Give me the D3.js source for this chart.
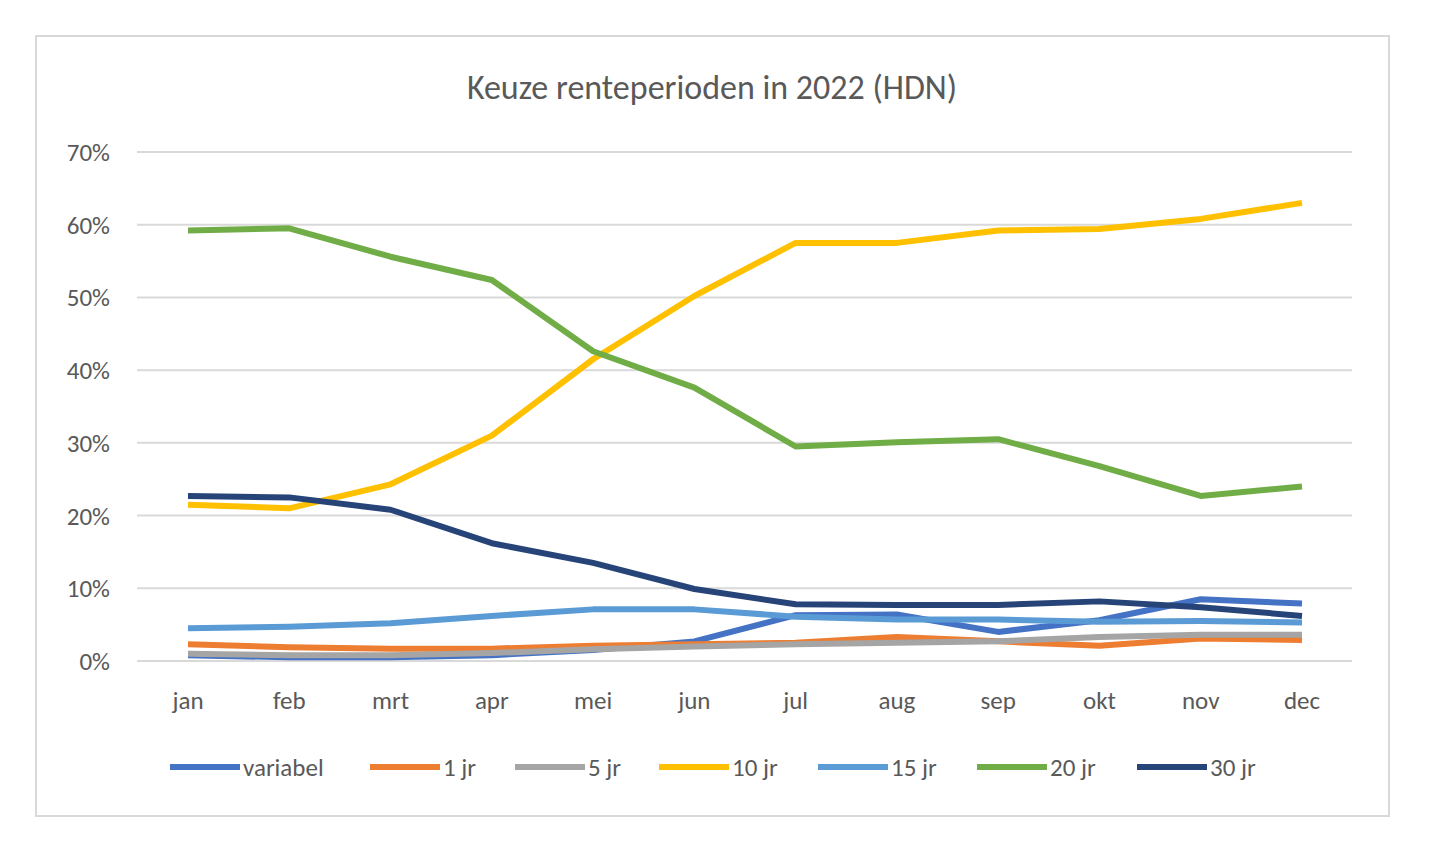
<!DOCTYPE html>
<html><head><meta charset="utf-8">
<script src="https://cdn.jsdelivr.net/npm/d3@7"></script>
<style>body{margin:0;background:#fff;font-family:Calibri,Carlito,"Open Sans",sans-serif}</style>
</head><body>
<svg id="c" width="1440" height="856"></svg>
<script>
const months = ['jan','feb','mrt','apr','mei','jun','jul','aug','sep','okt','nov','dec'];
const seriesNames = ['variabel','1 jr','5 jr','10 jr','15 jr','20 jr','30 jr'];
const colors = ['#4472c4','#ed7d31','#a5a5a5','#ffc000','#5b9bd5','#70ad47','#264478'];
const variabel = [0.8,0.5,0.5,0.8,1.5,2.7,6.3,6.4,4.0,5.6,8.5,7.9];
const jr1 = [2.3,1.9,1.7,1.7,2.1,2.3,2.5,3.3,2.7,2.1,3.1,2.9];
const jr5 = [1.0,0.8,0.8,1.1,1.6,2.0,2.3,2.5,2.7,3.3,3.6,3.6];
const jr10 = [21.5,21.0,24.3,31,41.5,50.2,57.5,57.5,59.2,59.4,60.8,63.0];
const jr15 = [4.5,4.7,5.2,6.2,7.1,7.1,6.1,5.7,5.7,5.4,5.5,5.3];
const jr20 = [59.2,59.5,55.6,52.4,42.6,37.6,29.5,30.1,30.5,26.8,22.7,24.0];
const jr30 = [22.7,22.5,20.8,16.2,13.5,9.9,7.8,7.7,7.7,8.2,7.4,6.2];
const values = [variabel,jr1,jr5,jr10,jr15,jr20,jr30];
const yTicks = [0,10,20,30,40,50,60,70];

const svg = d3.select('#c');
svg.append('rect').attr('x',36).attr('y',36).attr('width',1353).attr('height',780)
  .attr('fill','#fff').attr('stroke','#d9d9d9').attr('stroke-width',2);
svg.append('text').attr('x',712).attr('y',99).attr('text-anchor','middle')
  .attr('font-size',34).attr('fill','#595959').text('Keuze renteperioden in 2022 (HDN)');

const x = d3.scalePoint().domain(months).range([188,1302]);
const y = d3.scaleLinear().domain([0,70]).range([661,152]);

svg.append('g').selectAll('line').data(yTicks).join('line')
  .attr('x1',137).attr('x2',1352).attr('y1',d=>y(d)).attr('y2',d=>y(d))
  .attr('stroke','#d9d9d9').attr('stroke-width',2);
svg.append('g').selectAll('text').data(yTicks).join('text')
  .attr('x',110).attr('y',d=>y(d)+9).attr('text-anchor','end')
  .attr('font-size',25).attr('fill','#595959').text(d=>d+'%');
svg.append('g').selectAll('text').data(months).join('text')
  .attr('x',d=>x(d)).attr('y',709).attr('text-anchor','middle')
  .attr('font-size',25).attr('fill','#595959').text(d=>d);

const line = d3.line().x((d,i)=>x(months[i])).y(d=>y(d));
values.forEach((v,k)=>{
  svg.append('path').datum(v).attr('d',line).attr('fill','none')
    .attr('stroke',colors[k]).attr('stroke-width',6).attr('stroke-linejoin','round');
});

const legX = [170,370,515,659,818,977,1137];
seriesNames.forEach((n,k)=>{
  svg.append('line').attr('x1',legX[k]).attr('x2',legX[k]+70).attr('y1',767).attr('y2',767)
    .attr('stroke',colors[k]).attr('stroke-width',6);
  svg.append('text').attr('x',legX[k]+73).attr('y',776).attr('font-size',25)
    .attr('fill','#595959').text(n);
});
</script>
</body></html>
